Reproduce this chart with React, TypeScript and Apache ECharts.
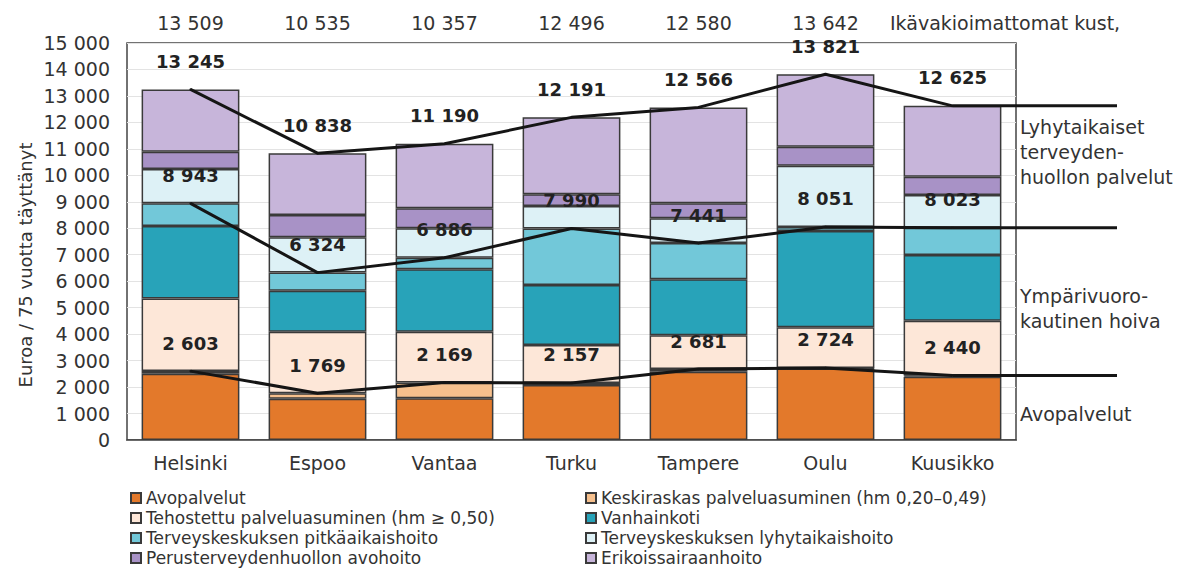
import React, { useEffect, useRef } from "react";
import * as echarts from "echarts";

const categories = ["Helsinki", "Espoo", "Vantaa", "Turku", "Tampere", "Oulu", "Kuusikko"];
const unadjusted = [13509, 10535, 10357, 12496, 12580, 13642];
const unadjustedTitle = "Ikävakioimattomat kust,";

const avopalvelut = [2500, 1560, 1580, 2080, 2580, 2700, 2392];
const keskiraskas = [103, 209, 589, 77, 101, 24, 48];
const tehostettu = [2747, 2323, 1923, 1432, 1274, 1534, 2068];
const vanhainkoti = [2735, 1549, 2356, 2267, 2116, 3642, 2481];
const tkPitka = [858, 683, 438, 2134, 1370, 151, 1034];
const tkLyhyt = [1295, 1334, 1114, 850, 934, 2312, 1233];
const perusAvohoito = [654, 842, 753, 442, 567, 717, 691];
const erikoissairaanhoito = [2353, 2338, 2437, 2909, 3624, 2741, 2678];

const lineAvo = [2603, 1769, 2169, 2157, 2681, 2724, 2440];
const lineYmpari = [8943, 6324, 6886, 7990, 7441, 8051, 8023];
const lineTotal = [13245, 10838, 11190, 12191, 12566, 13821, 12625];

const groupLabels = [
  { text: "Lyhytaikaiset\nterveyden-\nhuollon palvelut", value: 10900 },
  { text: "Ympärivuoro-\nkautinen hoiva", value: 4960 },
  { text: "Avopalvelut", value: 1000 },
];

const stackSeries = [
  { name: "Avopalvelut", data: avopalvelut, color: "#E3792B" },
  { name: "Keskiraskas palveluasuminen (hm 0,20–0,49)", data: keskiraskas, color: "#F6C08D" },
  { name: "Tehostettu palveluasuminen (hm ≥ 0,50)", data: tehostettu, color: "#FDE7D8" },
  { name: "Vanhainkoti", data: vanhainkoti, color: "#28A3B9" },
  { name: "Terveyskeskuksen pitkäaikaishoito", data: tkPitka, color: "#72C8D9" },
  { name: "Terveyskeskuksen lyhytaikaishoito", data: tkLyhyt, color: "#DDF1F6" },
  { name: "Perusterveydenhuollon avohoito", data: perusAvohoito, color: "#A892C6" },
  { name: "Erikoissairaanhoito", data: erikoissairaanhoito, color: "#C7B5DA" },
];

const FONT = "'DejaVu Sans', sans-serif";
const fmt = (v: number) => String(v).replace(/\B(?=(\d{3})+(?!\d))/g, " ");

export default function App() {
  const ref = useRef<HTMLDivElement>(null);
  useEffect(() => {
    if (!ref.current) return;
    const chart = echarts.init(ref.current, null, { renderer: "svg" });

    const bars = stackSeries.map((s) => ({
      name: s.name,
      type: "bar",
      stack: "total",
      barWidth: "77%",
      data: s.data,
      itemStyle: { color: s.color, borderColor: "#3a3a3a", borderWidth: 1.5 },
      emphasis: { disabled: true },
      z: 2,
    }));

    const lines = [lineAvo, lineYmpari, lineTotal].map((d, i) => ({
      name: "line" + i,
      type: "line",
      data: d,
      symbol: "circle",
      symbolSize: 2,
      lineStyle: { color: "#151515", width: 3 },
      itemStyle: { color: "#151515" },
      label: {
        show: true,
        position: "top",
        distance: 18,
        formatter: (p: any) => fmt(p.value),
        fontFamily: FONT,
        fontSize: 18,
        fontWeight: "bold",
        color: "#222",
      },
      z: 5,
    }));

    const legendText = { fontFamily: FONT, fontSize: 17, color: "#333", lineHeight: 18 };
    const leftNames = stackSeries.filter((_, i) => i % 2 === 0).map((s) => s.name);
    const rightNames = stackSeries.filter((_, i) => i % 2 === 1).map((s) => s.name);
    const legendBase = {
      orient: "vertical",
      top: 489,
      height: 120,
      width: 500,
      padding: 0,
      itemWidth: 10,
      itemHeight: 10,
      itemGap: 2,
      icon: "rect",
      textStyle: legendText,
      selectedMode: false,
    };

    const baseGraphic: any[] = [
      {
        type: "text",
        x: 25,
        y: 265,
        rotation: Math.PI / 2,
        style: {
          text: "Euroa / 75 vuotta täyttänyt",
          font: `18px ${FONT}`,
          fill: "#333",
          textAlign: "center",
          textVerticalAlign: "middle",
        },
      },
      {
        type: "text",
        x: 890,
        y: 23,
        style: {
          text: unadjustedTitle,
          font: `19px ${FONT}`,
          fill: "#333",
          textAlign: "left",
          textVerticalAlign: "middle",
        },
      },
    ];

    const option: any = {
      animation: false,
      backgroundColor: "#fff",
      grid: {
        left: 127,
        right: 165,
        top: 43,
        bottom: 130,
        show: true,
        borderColor: "#444",
        borderWidth: 1.5,
        backgroundColor: "transparent",
      },
      legend: [
        { ...legendBase, data: leftNames, left: 130 },
        { ...legendBase, data: rightNames, left: 585 },
      ],
      xAxis: [
        {
          type: "category",
          data: categories,
          axisLine: { show: true, lineStyle: { color: "#444", width: 1.5 } },
          axisTick: { show: false },
          axisLabel: { fontFamily: FONT, fontSize: 19, color: "#333", margin: 13 },
        },
        {
          type: "category",
          position: "top",
          data: categories,
          axisLine: { show: false },
          axisTick: { show: false },
          axisLabel: {
            fontFamily: FONT,
            fontSize: 19,
            color: "#333",
            margin: 11,
            formatter: (_: string, idx: number) => (idx < unadjusted.length ? fmt(unadjusted[idx]) : ""),
          },
        },
      ],
      yAxis: {
        type: "value",
        min: 0,
        max: 15000,
        interval: 1000,
        axisLine: { show: false },
        axisTick: { show: false },
        splitLine: { show: true, lineStyle: { color: "#e3e3e3", width: 1 } },
        axisLabel: {
          fontFamily: FONT,
          fontSize: 19,
          color: "#333",
          margin: 17,
          formatter: (v: number) => fmt(v),
        },
      },
      series: [...bars, ...lines],
      graphic: baseGraphic,
    };
    chart.setOption(option);

    const lineEnd = 1117;
    const extra: any[] = [];
    [lineAvo, lineYmpari, lineTotal].forEach((d) => {
      const last = d.length - 1;
      const p = chart.convertToPixel({ xAxisIndex: 0, yAxisIndex: 0 }, [last, d[last]]) as number[];
      extra.push({
        type: "line",
        shape: { x1: p[0], y1: p[1], x2: lineEnd, y2: p[1] },
        style: { stroke: "#151515", lineWidth: 3 },
        z: 10,
      });
    });
    groupLabels.forEach((g) => {
      const p = chart.convertToPixel({ xAxisIndex: 0, yAxisIndex: 0 }, [0, g.value]) as number[];
      extra.push({
        type: "text",
        x: 1020,
        y: p[1],
        style: {
          text: g.text,
          font: `19px ${FONT}`,
          lineHeight: 25,
          fill: "#333",
          textAlign: "left",
          textVerticalAlign: "middle",
        },
      });
    });
    chart.setOption({ graphic: [...baseGraphic, ...extra] });

    return () => chart.dispose();
  }, []);
  return (
    <div
      ref={ref}
      style={{ position: "fixed", left: 0, top: 0, width: 1181, height: 570, background: "#fff" }}
    />
  );
}
